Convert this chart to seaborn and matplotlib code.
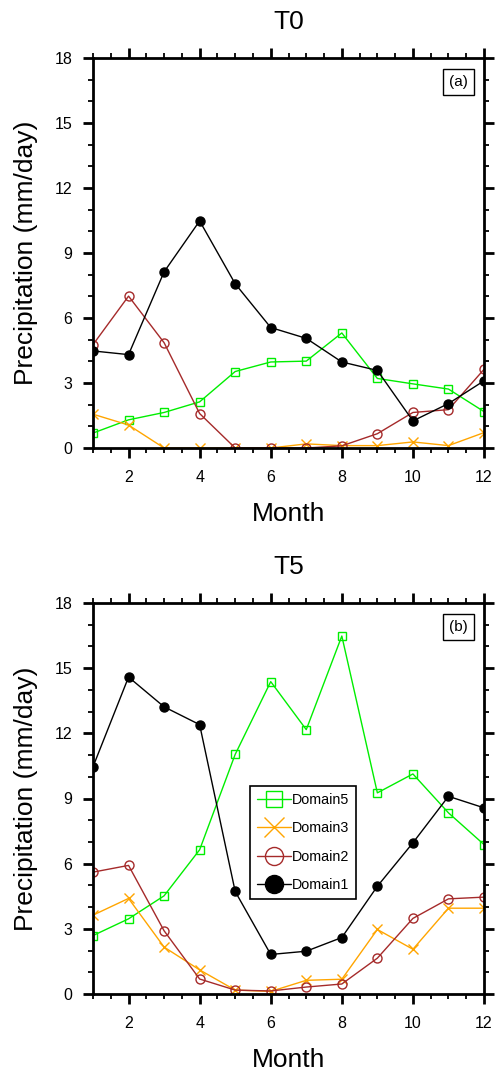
import numpy as np
import pandas as pd
import matplotlib
matplotlib.use("Agg")
import matplotlib.pyplot as plt
from matplotlib.lines import Line2D
from matplotlib.ticker import MultipleLocator
import seaborn as sns

sns.set_style("ticks")
plt.rcParams["font.family"] = ["Liberation Sans", "DejaVu Sans"]
plt.rcParams.update({
    "text.color": "black",
    "axes.labelcolor": "black",
    "xtick.color": "black",
    "ytick.color": "black",
    "axes.edgecolor": "black",
})

months = list(range(1, 13))
series_names = ["Domain5", "Domain3", "Domain2", "Domain1"]

# Monthly precipitation (mm/day), experiment T0
t0_domain1 = [4.48, 4.31, 8.13, 10.48, 7.58, 5.56, 5.06, 3.97, 3.58, 1.25, 2.05, 3.10]
t0_domain2 = [4.77, 7.01, 4.86, 1.59, 0.0, 0.0, 0.0, 0.10, 0.66, 1.64, 1.77, 3.63]
t0_domain3 = [1.56, 1.06, 0.0, 0.0, 0.0, 0.0, 0.19, 0.11, 0.11, 0.28, 0.11, 0.71]
t0_domain5 = [0.69, 1.30, 1.64, 2.13, 3.53, 3.97, 4.01, 5.31, 3.21, 2.96, 2.72, 1.68]

# Monthly precipitation (mm/day), experiment T5
t5_domain1 = [10.46, 14.59, 13.22, 12.40, 4.72, 1.82, 1.97, 2.60, 4.96, 6.96, 9.10, 8.57]
t5_domain2 = [5.61, 5.92, 2.91, 0.69, 0.18, 0.14, 0.32, 0.46, 1.65, 3.48, 4.38, 4.46]
t5_domain3 = [3.63, 4.40, 2.16, 1.11, 0.18, 0.12, 0.63, 0.68, 2.97, 2.06, 3.95, 3.95]
t5_domain5 = [2.69, 3.46, 4.52, 6.64, 11.03, 14.38, 12.17, 16.48, 9.26, 10.13, 8.34, 6.88]

panel_titles = ["T0", "T5"]
panel_tags = ["(a)", "(b)"]
x_label = "Month"
y_label = "Precipitation (mm/day)"

styles = {
    "Domain5": dict(color="#00ee00", marker="s", mfc="none", ms=6.0),
    "Domain3": dict(color="#ffa500", marker="x", mfc="#ffa500", ms=7.0),
    "Domain2": dict(color="#a52a2a", marker="o", mfc="none", ms=6.5),
    "Domain1": dict(color="black", marker="o", mfc="black", ms=6.5),
}


def long_table(d1, d2, d3, d5):
    frames = []
    for name, vals in zip(series_names, [d5, d3, d2, d1]):
        frames.append(pd.DataFrame({"Month": months, "Precip": vals, "Series": name}))
    return pd.concat(frames, ignore_index=True)


tables = [
    long_table(t0_domain1, t0_domain2, t0_domain3, t0_domain5),
    long_table(t5_domain1, t5_domain2, t5_domain3, t5_domain5),
]

fig = plt.figure(figsize=(4.96, 10.76), dpi=100)
W, H = 496, 1076
axes_px = [(93, 58, 484, 448), (93, 603, 484, 994)]
axes = []
for (x0, y0, x1, y1) in axes_px:
    axes.append(fig.add_axes([x0 / W, 1 - y1 / H, (x1 - x0) / W, (y1 - y0) / H]))

for i, (ax, df) in enumerate(zip(axes, tables)):
    for name in series_names:
        st = styles[name]
        sub = df[df["Series"] == name]
        sns.lineplot(data=sub, x="Month", y="Precip", ax=ax, color=st["color"],
                     marker=st["marker"], markersize=st["ms"],
                     markerfacecolor=st["mfc"], markeredgecolor=st["color"],
                     markeredgewidth=1.0, linewidth=1.0, legend=False)
    ax.set_xlim(1, 12)
    ax.set_ylim(0, 18)
    ax.xaxis.set_major_locator(MultipleLocator(2))
    ax.xaxis.set_minor_locator(MultipleLocator(0.5))
    ax.yaxis.set_major_locator(MultipleLocator(3))
    ax.yaxis.set_minor_locator(MultipleLocator(1))
    ax.tick_params(which="both", direction="out", top=True, right=True,
                   labeltop=False, labelright=False, colors="black")
    ax.tick_params(which="major", length=7, width=2.0, labelsize=11.5)
    ax.tick_params(axis="x", which="major", pad=9)
    ax.tick_params(axis="y", which="major", pad=8)
    ax.tick_params(which="minor", length=3.5, width=1.3)
    for sp in ax.spines.values():
        sp.set_linewidth(2.0)
        sp.set_color("black")
        sp.set_visible(True)
    ax.set_xlabel(x_label, fontsize=19, labelpad=12)
    ax.set_ylabel(y_label, fontsize=19, labelpad=12)
    ax.set_title(panel_titles[i], fontsize=19, pad=21)
    ax.text(0.935, 0.938, panel_tags[i], transform=ax.transAxes, fontsize=11,
            ha="center", va="center",
            bbox=dict(boxstyle="square,pad=0.4", facecolor="white",
                      edgecolor="black", linewidth=1.0))

handles = []
for name in series_names:
    st = styles[name]
    handles.append(Line2D([0], [0], color=st["color"], marker=st["marker"],
                          markersize=st["ms"] * 2.0, markerfacecolor=st["mfc"],
                          markeredgecolor=st["color"], markeredgewidth=1.0,
                          linewidth=1.0))
leg = axes[1].legend(handles, series_names, loc="upper left",
                     bbox_to_anchor=(0.4015, 0.532), fontsize=10.3,
                     frameon=True, fancybox=False, edgecolor="black",
                     framealpha=1.0, handlelength=2.4, handletextpad=0.0,
                     labelspacing=1.0, borderpad=0.5, borderaxespad=0.0)
leg.get_frame().set_linewidth(1.2)

fig.savefig("out.png", dpi=100)
